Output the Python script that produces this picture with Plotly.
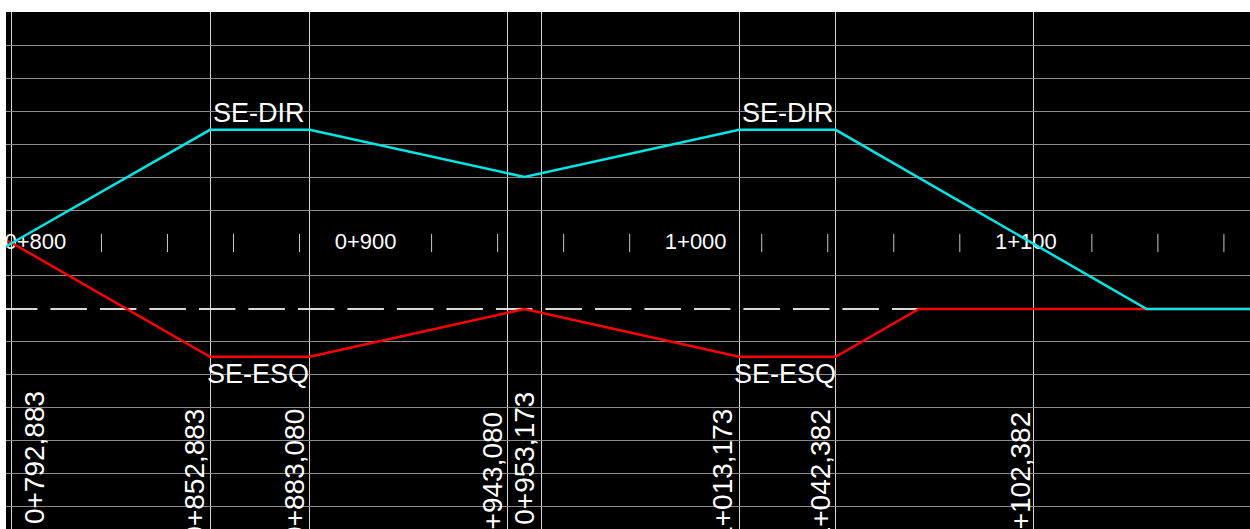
import plotly.graph_objects as go

# ---------------- data ----------------
# SE-DIR (cyan) superelevation profile: stations (m) and values (grid units)
dir_sta = [791.1, 792.883, 852.883, 883.080, 948.127, 1013.173, 1042.382, 1136.6, 1168.0]
dir_val = [1.90, 2.00, 5.43, 5.43, 4.00, 5.43, 5.43, 0.00, 0.00]

# SE-ESQ (red) superelevation profile
esq_sta = [791.7, 792.883, 852.883, 883.080, 948.127, 1013.173, 1042.382, 1067.6, 1168.0]
esq_val = [2.06, 2.00, -1.45, -1.45, 0.00, -1.45, -1.45, 0.00, 0.00]

# key stations (vertical lines) and their labels
key_sta = [792.883, 852.883, 883.080, 943.080, 953.173, 1013.173, 1042.382, 1102.382]
key_lbl = ["0+792,883", "0+852,883", "0+883,080", "0+943,080",
           "0+953,173", "1+013,173", "1+042,382", "1+102,382"]

# hundred-metre station labels
hm_sta = [800, 900, 1000, 1100]
hm_lbl = ["0+800", "0+900", "1+000", "1+100"]

# 20 m tick marks
tick_sta = [820, 840, 860, 880, 920, 940, 960, 980, 1020, 1040, 1060, 1080, 1120, 1140, 1160]

# horizontal grid levels
grid_lvl = [-6, -5, -4, -3, -2, -1, 1, 3, 4, 5, 6, 7, 8, 9]

# SE text labels
dir_lbl_sta = [852.883, 1013.173]
esq_lbl_sta = [(852.883 + 883.080) / 2, (1013.173 + 1042.382) / 2]

# ---------------- styling / layout ----------------
FONT = "Liberation Sans, Arial, sans-serif"
X_RANGE = [791.09, 1167.9]
Y_RANGE = [-6.667, 9.0]
ZERO_PX = 309.3
PX_PER_UNIT = 33.0


def px_to_y(py):
    return (ZERO_PX - py) / PX_PER_UNIT


fig = go.Figure()

# dashed zero line
fig.add_trace(go.Scatter(
    x=[789.55, 1168.0], y=[0, 0], mode="lines",
    line=dict(color="#d9d9d9", width=2, dash="36.5px,13px"),
    hoverinfo="skip", showlegend=False))

# station tick marks
fig.add_trace(go.Scatter(
    x=tick_sta, y=[2] * len(tick_sta), mode="markers",
    marker=dict(symbol="line-ns", size=13,
                line=dict(color="#c8c8c8", width=1)),
    hoverinfo="skip", showlegend=False))

# hundred-metre labels (clipped to plot area)
fig.add_trace(go.Scatter(
    x=hm_sta, y=[2] * len(hm_sta), mode="text", text=hm_lbl,
    textposition="middle center",
    textfont=dict(family=FONT, size=22, color="#ffffff"),
    hoverinfo="skip", showlegend=False))

# SE-ESQ (red)
fig.add_trace(go.Scatter(
    x=esq_sta, y=esq_val, mode="lines",
    line=dict(color="#ff0000", width=2.5),
    hoverinfo="skip", showlegend=False))

# SE-DIR (cyan)
fig.add_trace(go.Scatter(
    x=dir_sta, y=dir_val, mode="lines",
    line=dict(color="#00e6e6", width=2.5),
    hoverinfo="skip", showlegend=False))

annotations = []
for s in dir_lbl_sta:
    annotations.append(dict(
        x=s, y=5.43, xref="x", yref="y", text="SE-DIR", showarrow=False,
        xanchor="left", yanchor="bottom", xshift=1, yshift=0,
        font=dict(family=FONT, size=27, color="#ffffff")))
for s in esq_lbl_sta:
    annotations.append(dict(
        x=s, y=-1.45, xref="x", yref="y", text="SE-ESQ", showarrow=False,
        xanchor="center", yanchor="top", xshift=-2, yshift=0,
        font=dict(family=FONT, size=27, color="#ffffff")))

# rotated key station labels
lbl_xshift = [22, -15, -15.5, -15.5, -16, -16, -15, -14]
lbl_top_px = [389, 407.5, 407.5, 410.5, 390.5, 407.5, 407.5, 410]
for s, t, dx, tp in zip(key_sta, key_lbl, lbl_xshift, lbl_top_px):
    annotations.append(dict(
        x=s, y=px_to_y(tp), xref="x", yref="y", text=t, showarrow=False,
        textangle=-90, xanchor="center", yanchor="top", xshift=dx,
        font=dict(family=FONT, size=28, color="#ffffff")))

fig.update_layout(
    width=1250, height=529,
    margin=dict(l=6, r=0, t=12, b=0, pad=0),
    paper_bgcolor="#ffffff", plot_bgcolor="#000000",
    showlegend=False,
    xaxis=dict(range=X_RANGE, tickvals=key_sta, showticklabels=False,
               ticks="", showgrid=True, gridcolor="#d4d4d4", gridwidth=1,
               zeroline=False, showline=False, fixedrange=True),
    yaxis=dict(range=Y_RANGE, tickvals=grid_lvl, showticklabels=False,
               ticks="", showgrid=True, gridcolor="#8c8c8c", gridwidth=1,
               zeroline=False, showline=False, fixedrange=True),
    annotations=annotations,
)

fig.write_html("out.html", config={"displayModeBar": False},
               post_script="document.body.style.margin='0px';"
                           "document.body.style.overflow='hidden';")
